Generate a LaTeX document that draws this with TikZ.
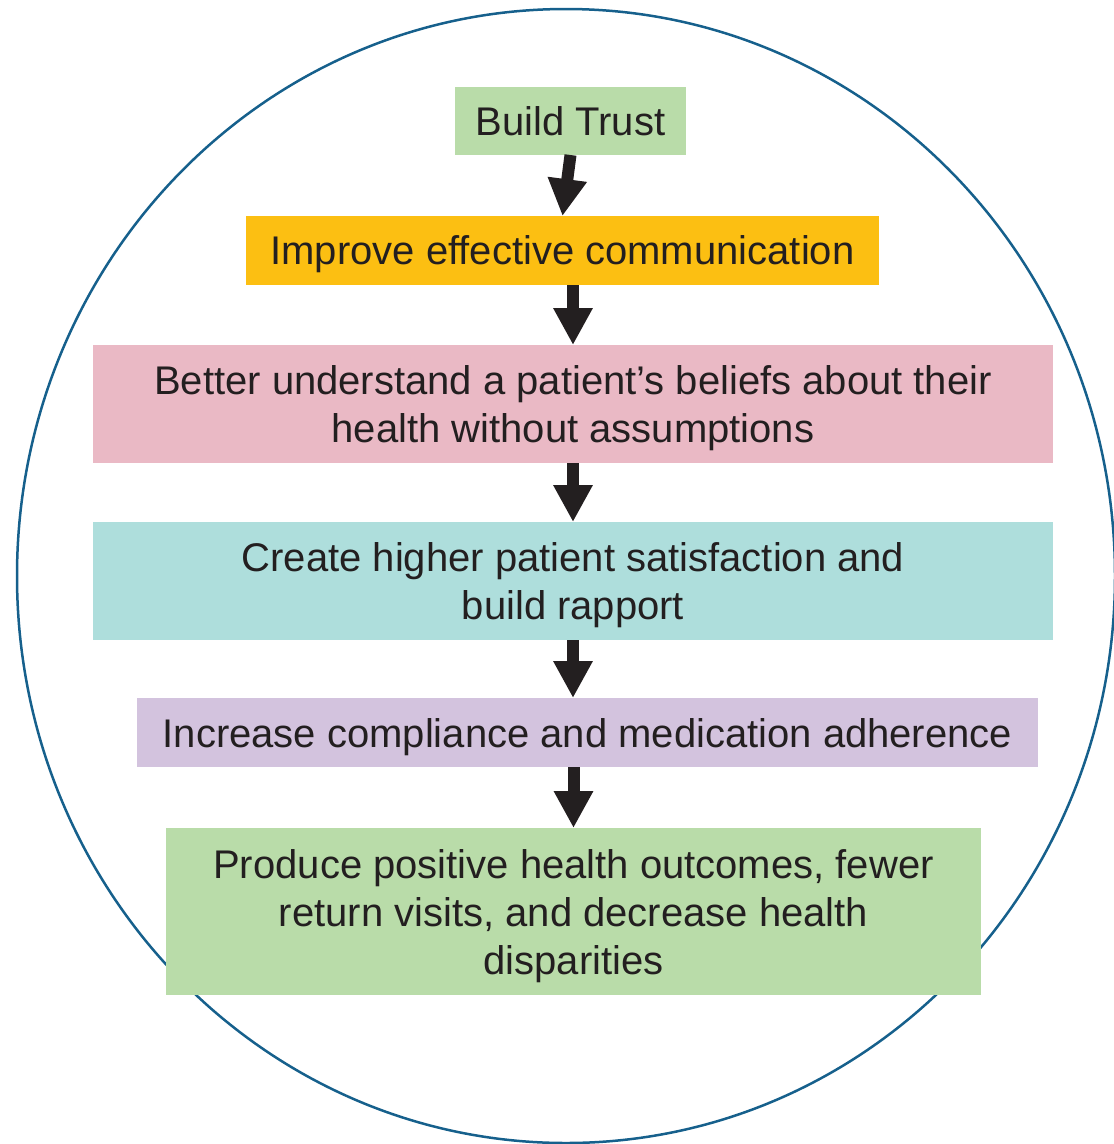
\documentclass[tikz,border=0pt]{standalone}
\usepackage{fontspec}
\setmainfont{Liberation Sans}
\usetikzlibrary{arrows.meta}
\definecolor{ringblue}{HTML}{16608C}
\definecolor{ink}{HTML}{231F20}
\definecolor{cgreen}{HTML}{B9DCA9}
\definecolor{corange}{HTML}{FCBF12}
\definecolor{cpink}{HTML}{EAB9C5}
\definecolor{cteal}{HTML}{AEDEDC}
\definecolor{clav}{HTML}{D3C3DE}
\tikzset{
  stepbox/.style={inner sep=0pt, outer sep=0pt, align=center, text=ink,
    text depth=0pt, font=\fontsize{40}{48}\selectfont},
  flow/.style={draw=ink, line width=12pt,
    -{Triangle[width=37pt,length=37pt]}, shorten >=0pt}
}
\begin{document}
\begin{tikzpicture}[x=1pt,y=-1pt]
\useasboundingbox (0,0) rectangle (1114,1144);
\draw[ringblue, line width=2.5pt] (566,576) ellipse [x radius=549, y radius=567];
\node[stepbox, fill=cgreen, minimum width=231pt, minimum height=68pt] (bt) at (570.5,121) {Build Trust};
\node[stepbox, fill=corange, minimum width=633pt, minimum height=69pt] (ic) at (562.5,250.5) {Improve effective communication};
\node[stepbox, fill=cpink, minimum width=960pt, minimum height=118pt] (bu) at (573,404) {Better understand a patient’s beliefs about their\\health without assumptions};
\node[stepbox, fill=cteal, minimum width=960pt, minimum height=118pt] (ch) at (573,581) {Create higher patient satisfaction and\\build rapport};
\node[stepbox, fill=clav, minimum width=901pt, minimum height=69pt] (ca) at (587.5,732.5) {Increase compliance and medication adherence};
\node[stepbox, fill=cgreen, minimum width=815pt, minimum height=167pt] (po) at (573.5,911.5) {Produce positive health outcomes, fewer\\return visits, and decrease health\\disparities};
\draw[flow] (bt.south) -- (ic.north);
\draw[flow] (bu.north |- ic.south) -- (bu.north);
\draw[flow] (bu.south) -- (ch.north);
\draw[flow] (ch.south) -- (ch.south |- ca.north);
\draw[flow] (po.north |- ca.south) -- (po.north);
\end{tikzpicture}
\end{document}
